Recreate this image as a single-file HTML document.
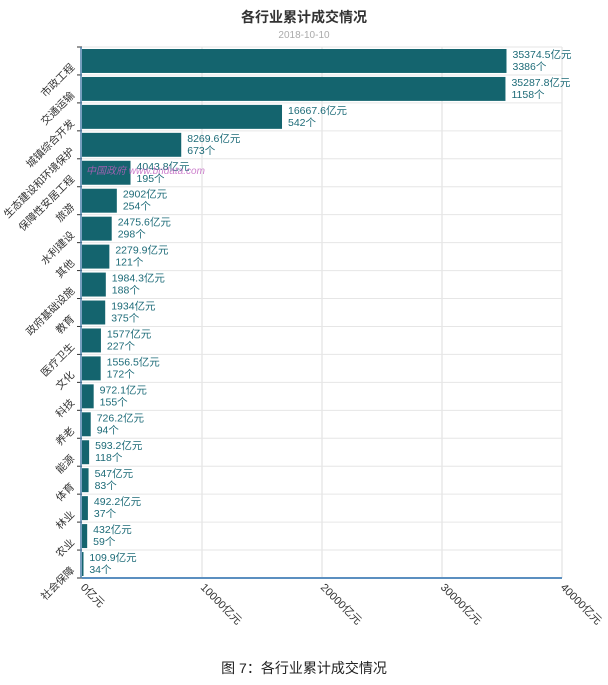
<!DOCTYPE html><html><head><meta charset="utf-8"><style>body{margin:0;background:#fff}svg{display:block}text{font-family:"Liberation Sans","Noto Sans CJK SC",sans-serif}</style></head><body>
<svg width="608" height="685" xmlns="http://www.w3.org/2000/svg">
<text x="304" y="22" text-anchor="middle" font-size="14" font-weight="bold" fill="#333">各行业累计成交情况</text>
<text x="304" y="38" text-anchor="middle" font-size="10" fill="#aaa">2018-10-10</text>
<g id="p"></g>
<text x="304" y="673" text-anchor="middle" font-size="14" fill="#222">图 7：各行业累计成交情况</text>
</svg>
<script>
(function(){
var d=[["市政工程",35374.5,3386],["交通运输",35287.8,1158],["城镇综合开发",16667.6,542],["生态建设和环境保护",8269.6,673],["保障性安居工程",4043.8,195],["旅游",2902,254],["水利建设",2475.6,298],["其他",2279.9,121],["政府基础设施",1984.3,188],["教育",1934,375],["医疗卫生",1577,227],["文化",1556.5,172],["科技",972.1,155],["养老",726.2,94],["能源",593.2,118],["体育",547,83],["林业",492.2,37],["农业",432,59],["社会保障",109.9,34]];
var g=document.getElementById('p');var s='';var T=47,B=578,x0=82,W=480;
var rows=d.length;var hh=(B-T)/rows;
for(var k=1;k<=4;k++){var x=x0+k*120;s+='<line x1="'+x+'" y1="'+T+'" x2="'+x+'" y2="'+B+'" stroke="#ddd"/>';}
for(var i=0;i<=rows;i++){var y=T+i*hh;s+='<line x1="'+x0+'" y1="'+y+'" x2="'+(x0+W)+'" y2="'+y+'" stroke="#e6e6e6"/><line x1="77" y1="'+y+'" x2="'+x0+'" y2="'+y+'" stroke="#333"/>';}
d.forEach(function(r,i){var y=T+i*hh,w=r[1]/40000*W,c=y+hh/2;
s+='<rect x="'+x0+'" y="'+(y+2)+'" width="'+Math.max(w,1.5)+'" height="'+(hh-4)+'" fill="#14646e"/>';
s+='<text x="'+(x0+w+6)+'" y="'+(c-3)+'" font-size="10.5" fill="#1d6b78">'+r[1]+'亿元</text><text x="'+(x0+w+6)+'" y="'+(c+9)+'" font-size="10.5" fill="#1d6b78">'+r[2]+'个</text>';
s+='<text transform="translate(75,'+(c+7)+') rotate(-45)" text-anchor="end" font-size="10.5" fill="#333">'+r[0]+'</text>';});
s+='<line x1="'+(x0-1)+'" y1="'+T+'" x2="'+(x0-1)+'" y2="'+B+'" stroke="#4a7fa8" stroke-width="1.5"/><line x1="'+x0+'" y1="'+B+'" x2="'+(x0+W)+'" y2="'+B+'" stroke="#5b8fc0" stroke-width="2"/>';
["0亿元","10000亿元","20000亿元","30000亿元","40000亿元"].forEach(function(t,k){s+='<text transform="translate('+(x0+k*120-2)+','+(B+10)+') rotate(45)" font-size="11" fill="#333">'+t+'</text>';});
s+='<text x="86" y="174" font-size="10" font-style="italic" fill="#c060c0" opacity="0.8">中国政府 www.bridata.com</text>';
g.innerHTML=s;
})();
</script>
</body></html>
